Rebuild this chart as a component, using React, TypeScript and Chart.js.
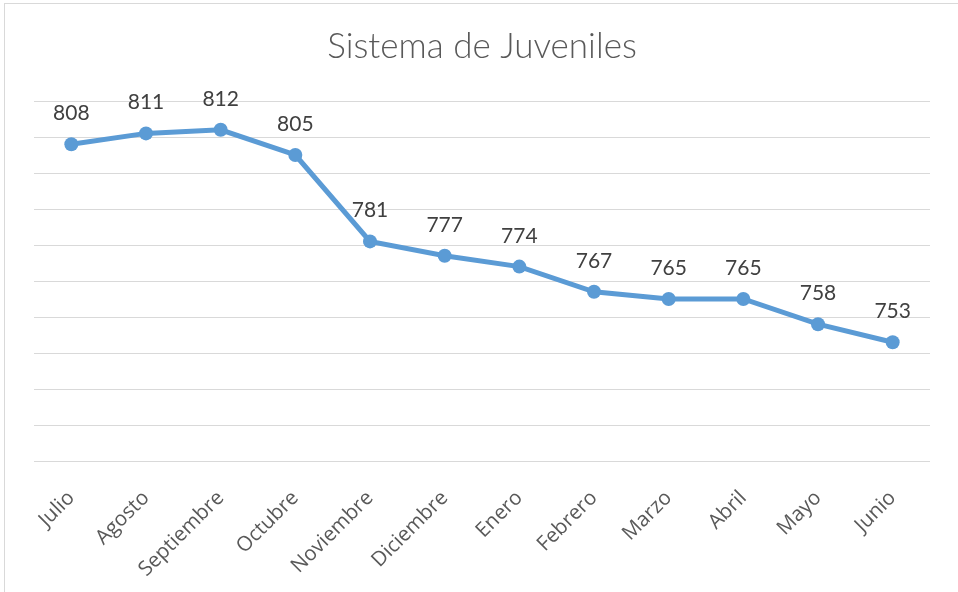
import React, { useEffect, useRef } from "react";
import { Chart, registerables } from "chart.js";

Chart.register(...registerables);

const categories = [
  "Julio", "Agosto", "Septiembre", "Octubre", "Noviembre", "Diciembre",
  "Enero", "Febrero", "Marzo", "Abril", "Mayo", "Junio",
];
const values = [808, 811, 812, 805, 781, 777, 774, 767, 765, 765, 758, 753];
const titleText = "Sistema de Juveniles";
const yMin = 720;
const yMax = 820;
const yStep = 10;

const dataLabelPlugin = {
  id: "dataLabels",
  afterDatasetsDraw(chart: any) {
    const ctx = chart.ctx;
    const meta = chart.getDatasetMeta(0);
    const data = chart.data.datasets[0].data;
    ctx.save();
    ctx.font = "21px Lato";
    ctx.fillStyle = "#404040";
    ctx.textAlign = "center";
    ctx.textBaseline = "alphabetic";
    meta.data.forEach((pt: any, i: number) => {
      ctx.fillText(String(data[i]), pt.x, pt.y - 24);
    });
    ctx.restore();
  },
};

export default function App() {
  const ref = useRef<HTMLCanvasElement | null>(null);
  useEffect(() => {
    document.body.style.margin = "0";
    const chart = new Chart(ref.current!, {
      type: "line",
      data: {
        labels: categories,
        datasets: [
          {
            data: values,
            borderColor: "#5b9bd5",
            backgroundColor: "#5b9bd5",
            borderWidth: 5,
            pointRadius: 7,
            pointHoverRadius: 7,
            pointBackgroundColor: "#5b9bd5",
            pointBorderColor: "#5b9bd5",
            pointBorderWidth: 0,
            tension: 0,
          },
        ],
      },
      options: {
        animation: false,
        responsive: false,
        maintainAspectRatio: false,
        layout: { padding: { left: 34, right: 28, top: 0, bottom: 0 } },
        plugins: {
          legend: { display: false },
          tooltip: { enabled: false },
          title: {
            display: true,
            text: titleText,
            color: "#595959",
            font: { family: "Lato", size: 35, weight: "300" as any },
            padding: { top: 26, bottom: 33 },
          },
        },
        scales: {
          x: {
            offset: true,
            grid: { display: false },
            border: { display: false },
            ticks: {
              color: "#595959",
              font: { family: "Open Sans", size: 20.5 },
              minRotation: 45,
              maxRotation: 45,
              padding: 17,
            },
            afterFit(scale: any) {
              scale.height = 131;
            },
          },
          y: {
            min: yMin,
            max: yMax,
            ticks: { display: false, stepSize: yStep },
            grid: { color: "#d9d9d9", lineWidth: 1, drawTicks: false },
            border: { display: false },
            afterFit(scale: any) {
              scale.width = 0;
            },
          },
        },
      },
      plugins: [dataLabelPlugin],
    });
    return () => chart.destroy();
  }, []);
  return (
    <div style={{ position: "fixed", left: 0, top: 0, width: 958, height: 592, background: "#fff" }}>
      <div
        style={{
          position: "absolute",
          left: 4,
          top: 3,
          width: 1000,
          height: 700,
          borderLeft: "1px solid #d9d9d9",
          borderTop: "1px solid #d9d9d9",
        }}
      />
      <canvas ref={ref} width={958} height={592} style={{ position: "absolute", left: 0, top: 0 }} />
    </div>
  );
}
